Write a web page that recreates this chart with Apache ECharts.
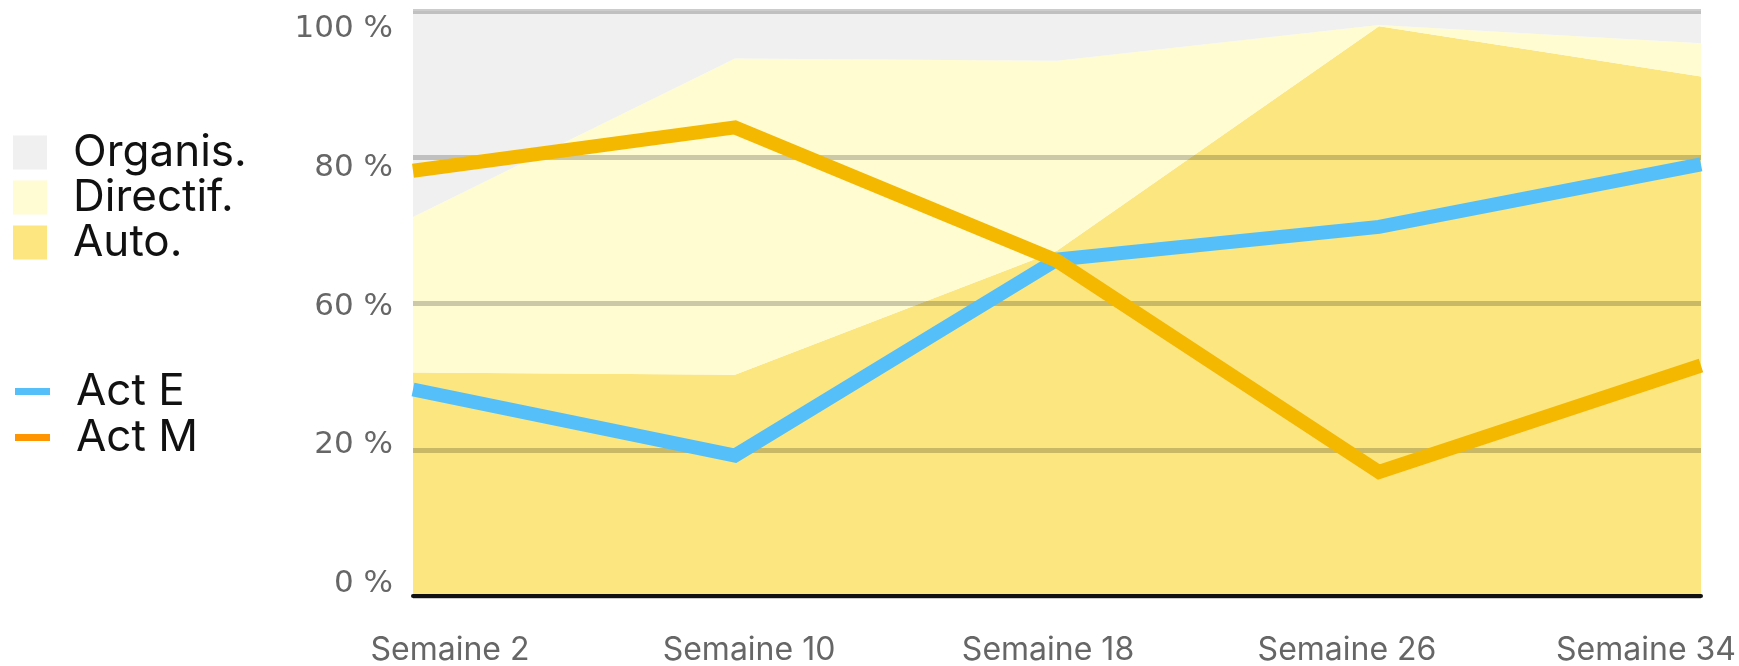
<!DOCTYPE html>
<html>
<head>
<meta charset="utf-8">
<style>
  html, body { margin: 0; padding: 0; background: #ffffff; }
  #chart { width: 1739px; height: 666px; }
</style>
<script src="https://cdn.jsdelivr.net/npm/echarts@6/dist/echarts.min.js"></script>
</head>
<body>
<div id="chart"></div>
<script>
// ---- data ----
const categories = ["Semaine 2", "Semaine 10", "Semaine 18", "Semaine 26", "Semaine 34"];
const yTickLabels = ["0 %", "20 %", "60 %", "80 %", "100 %"];

// stacked shares (bottom to top), sum = 100
const autoShare      = [38.2, 37.8, 59.0, 97.4, 88.8];
const directifShare  = [26.6, 54.1, 32.5,  0.2,  5.7];
const organisShare   = [35.2,  8.1,  8.5,  2.4,  5.5];

// lines
const actE = [35.3, 24.0, 57.5, 63.1, 73.8];
const actM = [72.7, 80.1, 57.3, 21.2, 39.4];

const chart = echarts.init(document.getElementById('chart'), null, { renderer: 'canvas' });

const areaSeries = (name, data, color) => ({
  name: name,
  type: 'line',
  stack: 'share',
  xAxisIndex: 0,
  yAxisIndex: 0,
  data: data,
  symbol: 'none',
  showSymbol: false,
  lineStyle: { width: 0 },
  itemStyle: { color: color },
  areaStyle: { color: color, opacity: 1 },
  emphasis: { disabled: true },
  z: 2
});

const lineSeries = (name, data, color) => ({
  name: name,
  type: 'line',
  xAxisIndex: 0,
  yAxisIndex: 0,
  data: data,
  symbol: 'none',
  showSymbol: false,
  lineStyle: { width: 14, color: color, join: 'miter', cap: 'butt' },
  itemStyle: { color: color },
  emphasis: { disabled: true },
  z: 5
});

const option = {
  animation: false,
  backgroundColor: '#ffffff',
  grid: [
    { left: 413, right: 38, top: 11, bottom: 70 },
    { left: 450, right: 91, top: 29, bottom: 79.3 }
  ],
  legend: [
    {
      orient: 'vertical',
      left: 13,
      top: 130.5,
      padding: 0,
      itemWidth: 34,
      itemHeight: 34,
      itemGap: 1,
      icon: 'rect',
      selectedMode: false,
      textStyle: { fontFamily: 'Inter', fontSize: 44, color: '#111111', lineHeight: 28, padding: [0, 0, 6, 21] },
      data: [
        { name: 'Organis.', itemStyle: { color: '#f0f0f0' } },
        { name: 'Directif.', itemStyle: { color: '#fffbd2' } },
        { name: 'Auto.', itemStyle: { color: '#fde680' } }
      ]
    },
    {
      orient: 'vertical',
      left: 15,
      top: 368.5,
      padding: 0,
      itemWidth: 35,
      itemHeight: 7,
      itemGap: 0,
      icon: 'rect',
      selectedMode: false,
      textStyle: { fontFamily: 'Inter', fontSize: 44, color: '#111111', lineHeight: 40, padding: [0, 0, 6, 21] },
      data: [
        { name: 'Act E', itemStyle: { color: '#55bffa' } },
        { name: 'Act M', itemStyle: { color: '#ff9500' } }
      ]
    }
  ],
  xAxis: [
    {
      type: 'category',
      gridIndex: 0,
      data: categories,
      boundaryGap: false,
      z: 3,
      axisLine: { show: true, lineStyle: { color: '#111111', width: 4 } },
      axisTick: { show: false },
      axisLabel: { show: false },
      splitLine: { show: false }
    },
    {
      type: 'category',
      gridIndex: 1,
      data: categories,
      boundaryGap: false,
      axisLine: { show: false },
      axisTick: { show: false },
      splitLine: { show: false },
      axisLabel: {
        show: true, interval: 0, margin: 66, verticalAlign: 'middle',
        fontFamily: 'Inter', fontSize: 32, color: '#666666'
      }
    }
  ],
  yAxis: [
    {
      type: 'value',
      gridIndex: 0,
      min: 0,
      max: 100,
      interval: 25,
      z: 3,
      axisLine: { show: false },
      axisTick: { show: false },
      axisLabel: { show: false },
      splitLine: { show: true, lineStyle: { color: 'rgba(0,0,0,0.2)', width: 5 } }
    },
    {
      type: 'category',
      gridIndex: 1,
      data: yTickLabels,
      boundaryGap: false,
      axisLine: { show: false },
      axisTick: { show: false },
      splitLine: { show: false },
      axisLabel: {
        show: true, interval: 0, margin: 57, align: 'right', verticalAlign: 'middle',
        fontFamily: 'DejaVu Sans', fontSize: 31, color: '#666666'
      }
    }
  ],
  series: [
    areaSeries('Auto.', autoShare, '#fce680'),
    areaSeries('Directif.', directifShare, '#fffcd2'),
    areaSeries('Organis.', organisShare, '#f0f0f0'),
    lineSeries('Act E', actE, '#55bffa'),
    lineSeries('Act M', actM, '#f5b800')
  ]
};

chart.setOption(option);
</script>
</body>
</html>
